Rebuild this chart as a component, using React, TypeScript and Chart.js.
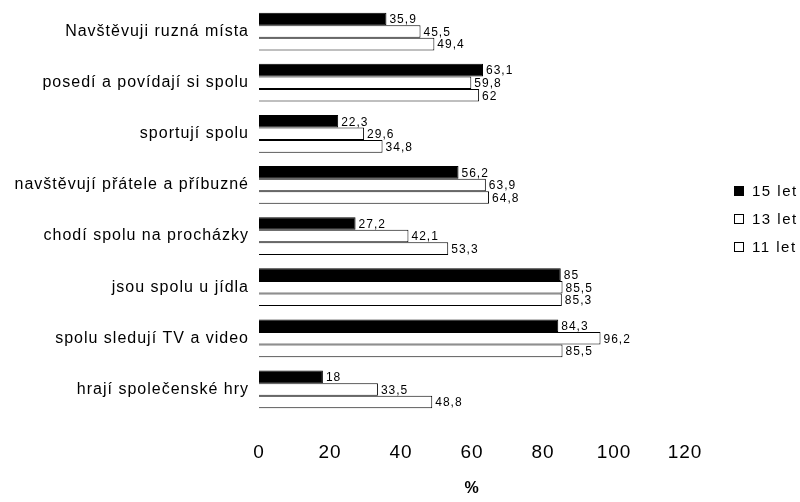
import { useEffect, useRef } from "react";
import { Chart, registerables } from "chart.js";

Chart.register(...registerables);

// Activities (top to bottom)
const categories = [
  "Navštěvuji ruzná místa",
  "posedí a povídají si spolu",
  "sportují spolu",
  "navštěvují přátele a příbuzné",
  "chodí spolu na procházky",
  "jsou spolu u jídla",
  "spolu sledují TV a video",
  "hrají společenské hry",
];

const seriesLabels = ["15 let", "13 let", "11 let"];

// Share of children (%) by age group
const values15 = [35.9, 63.1, 22.3, 56.2, 27.2, 85, 84.3, 18];
const values13 = [45.5, 59.8, 29.6, 63.9, 42.1, 85.5, 96.2, 33.5];
const values11 = [49.4, 62, 34.8, 64.8, 53.3, 85.3, 85.5, 48.8];

const xTickValues = [0, 20, 40, 60, 80, 100, 120];
const axisTitle = "%";

const FONT = "'Liberation Sans', Arial, Helvetica, sans-serif";

const fmt = (v: number) => String(v).replace(".", ",");

// Slightly tracked-out lettering for the axis text
const tracking = {
  id: "tracking",
  beforeDraw(chart: any) {
    (chart.ctx as any).letterSpacing = "1px";
  },
  afterDraw(chart: any) {
    (chart.ctx as any).letterSpacing = "0px";
  },
};

// Writes each bar's value just past its end
const valueLabels = {
  id: "valueLabels",
  afterDatasetsDraw(chart: any) {
    const ctx = chart.ctx;
    ctx.save();
    (ctx as any).letterSpacing = "1px";
    ctx.fillStyle = "#000";
    ctx.font = `12px ${FONT}`;
    ctx.textAlign = "left";
    ctx.textBaseline = "middle";
    chart.data.datasets.forEach((ds: any, di: number) => {
      const meta = chart.getDatasetMeta(di);
      meta.data.forEach((el: any, i: number) => {
        ctx.fillText(fmt(ds.data[i]), el.x + 3, el.y + 1);
      });
    });
    ctx.restore();
  },
};

// Small square-marker legend at the right side
const sideLegend = {
  id: "sideLegend",
  afterDraw(chart: any) {
    const ctx = chart.ctx;
    ctx.save();
    (ctx as any).letterSpacing = "1.5px";
    ctx.font = `15px ${FONT}`;
    ctx.textBaseline = "middle";
    ctx.textAlign = "left";
    const x = 734;
    const y0 = 190.5;
    const step = 28;
    chart.data.datasets.forEach((ds: any, i: number) => {
      const y = Math.round(y0 + i * step);
      ctx.fillStyle = ds.backgroundColor;
      ctx.fillRect(x + 0.5, y - 4.5, 9, 9);
      ctx.strokeStyle = "#000";
      ctx.lineWidth = 1;
      ctx.strokeRect(x + 0.5, y - 4.5, 9, 9);
      ctx.fillStyle = "#000";
      ctx.fillText(ds.label, x + 18, y + 1);
    });
    (ctx as any).letterSpacing = "0px";
    ctx.restore();
  },
};

export default function App() {
  const canvasRef = useRef<HTMLCanvasElement | null>(null);

  useEffect(() => {
    const canvas = canvasRef.current;
    if (!canvas) return;
    const series = [values15, values13, values11];
    const fills = ["#000000", "#ffffff", "#ffffff"];
    const chart = new Chart(canvas, {
      type: "bar",
      data: {
        labels: categories,
        datasets: series.map((data, i) => ({
          label: seriesLabels[i],
          data,
          backgroundColor: fills[i],
          borderColor: "#000000",
          borderWidth: 1,
          barPercentage: 1,
          categoryPercentage: 0.74,
        })),
      },
      options: {
        indexAxis: "y",
        responsive: false,
        animation: false,
        devicePixelRatio: 1,
        layout: { padding: { top: 6, right: 115, left: 0, bottom: 0 } },
        plugins: {
          legend: { display: false },
          tooltip: { enabled: false },
        },
        scales: {
          x: {
            min: 0,
            max: 120,
            afterBuildTicks: (scale: any) => {
              scale.ticks = xTickValues.map((v) => ({ value: v }));
            },
            afterFit: (scale: any) => {
              scale.height = 87;
            },
            grid: { display: false, drawTicks: false },
            border: { display: false },
            ticks: {
              color: "#000",
              padding: 26,
              font: { family: FONT, size: 19 },
            },
            title: {
              display: true,
              text: axisTitle,
              color: "#000",
              font: { family: FONT, size: 16, weight: "bold" },
              padding: { top: 0, bottom: 4 },
            },
          },
          y: {
            afterFit: (scale: any) => {
              scale.width = 259;
              scale.paddingTop = 0;
              scale.paddingBottom = 0;
            },
            grid: { display: false, drawTicks: false },
            border: { display: false },
            ticks: {
              color: "#000",
              padding: 10,
              font: { family: FONT, size: 16 },
            },
          },
        },
      },
      plugins: [tracking, valueLabels, sideLegend],
    });
    return () => chart.destroy();
  }, []);

  return (
    <div style={{ position: "fixed", left: 0, top: 0, width: 800, height: 502, background: "#fff" }}>
      <canvas ref={canvasRef} width={800} height={502} />
    </div>
  );
}
